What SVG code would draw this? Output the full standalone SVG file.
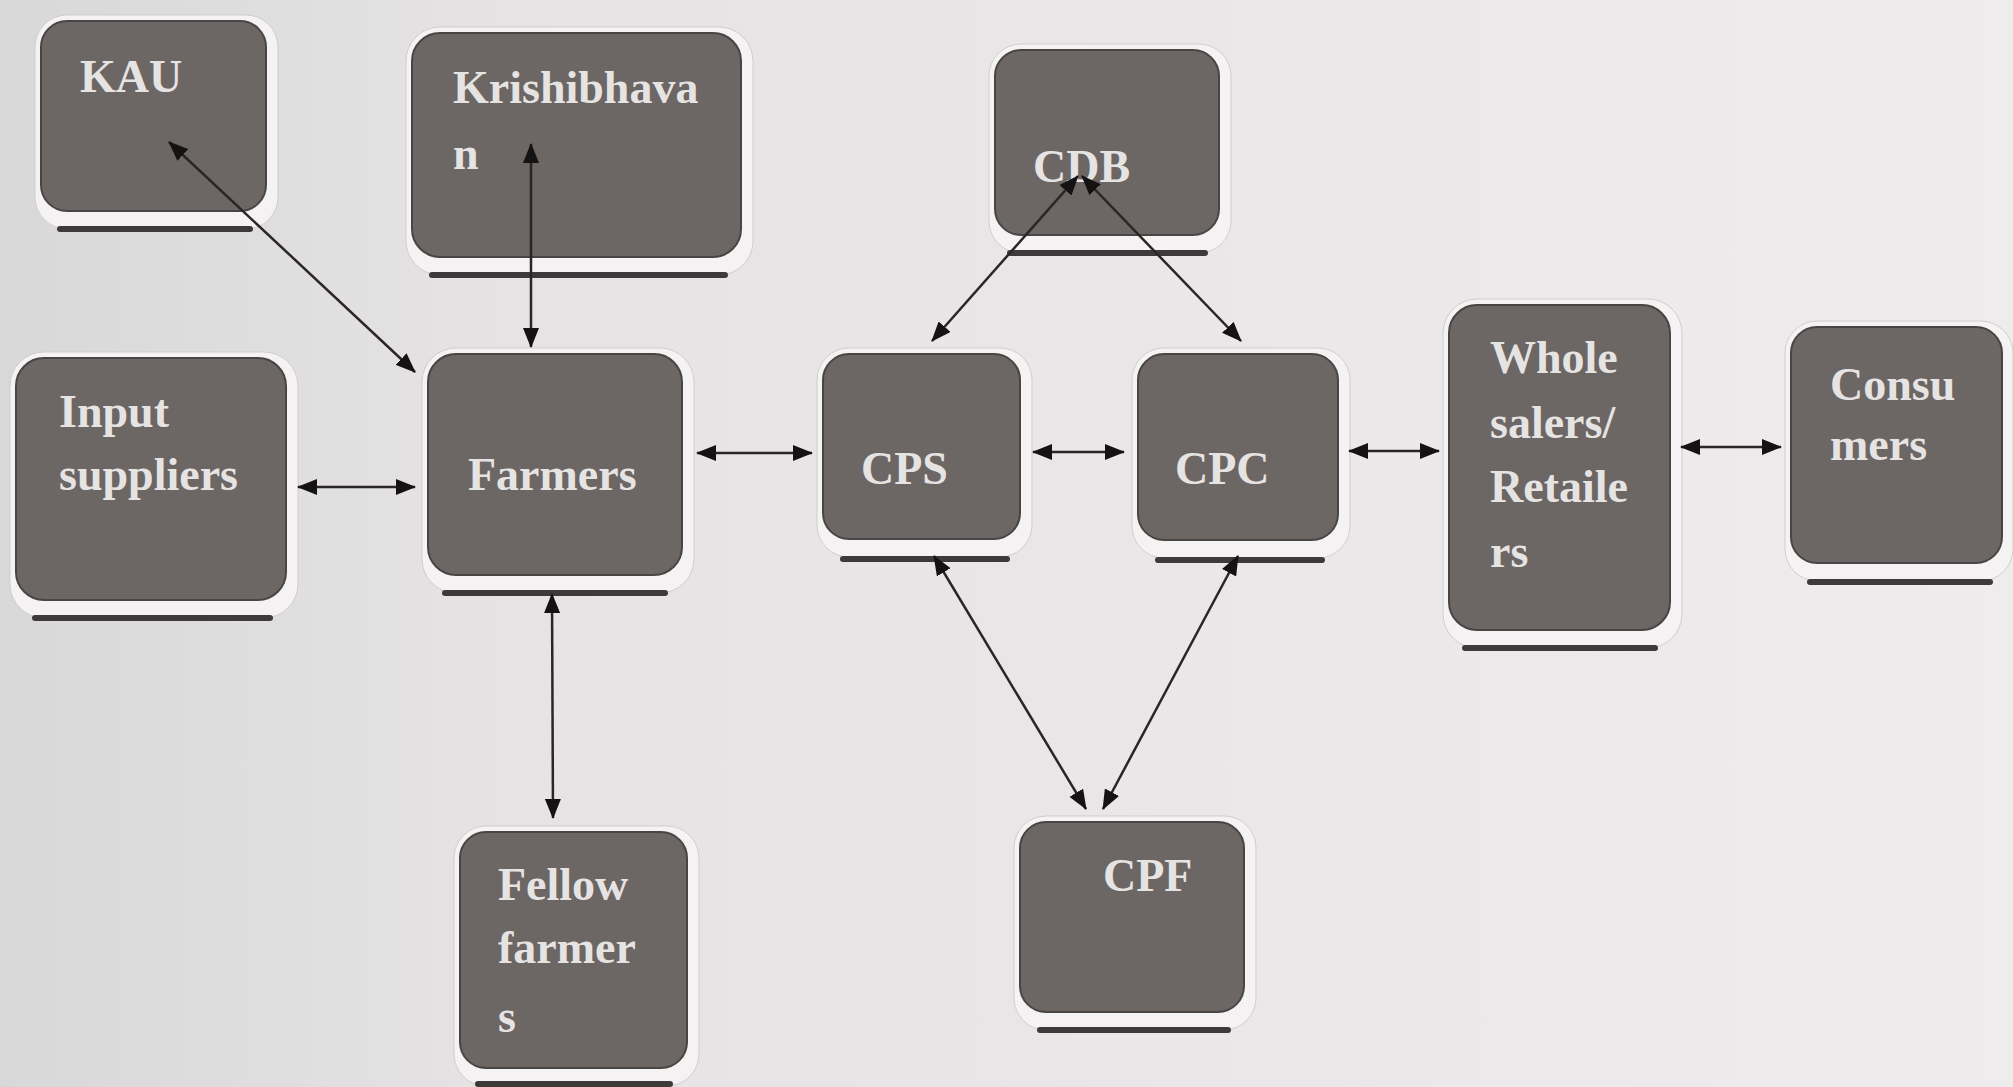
<svg xmlns="http://www.w3.org/2000/svg" width="2013" height="1087" viewBox="0 0 2013 1087">
<defs>
<linearGradient id="bg" x1="0" y1="0" x2="1" y2="0">
<stop offset="0" stop-color="#d9d8d8"/>
<stop offset="0.25" stop-color="#e5e3e3"/>
<stop offset="1" stop-color="#eeeced"/>
</linearGradient>
<marker id="ah" viewBox="0 0 20 16" markerWidth="20" markerHeight="16" refX="19" refY="8" orient="auto-start-reverse" markerUnits="userSpaceOnUse">
<path d="M0,0 L20,8 L0,16 z" fill="#141212"/>
</marker>
</defs>
<style>
.halo{fill:#f4f2f2;stroke:#d0cdcd;stroke-width:1}
.sh{stroke:#3e3a3a;stroke-width:6;stroke-linecap:round}
.box{fill:#6c6664;stroke:#4a4545;stroke-width:2}
.t{font-family:"Liberation Serif","Times New Roman",serif;font-size:46px;font-weight:bold;fill:#e6e3e3}
.c{stroke:#2a2626;stroke-width:2.5;fill:none;marker-start:url(#ah);marker-end:url(#ah)}
</style>
<rect width="2013" height="1087" fill="url(#bg)"/>

<g id="node-kau">
<rect class="halo" x="35" y="15" width="243" height="214" rx="32"/>
<line class="sh" x1="60" y1="229" x2="250" y2="229"/>
<rect class="box" x="41" y="21" width="225" height="190" rx="26"/>
<text class="t" x="80" y="92">KAU</text>
</g>

<g id="node-krishibhavan">
<rect class="halo" x="406" y="27" width="347" height="248" rx="34"/>
<line class="sh" x1="432" y1="275" x2="725" y2="275"/>
<rect class="box" x="412" y="33" width="329" height="224" rx="28"/>
<text class="t" x="453" y="103">Krishibhava</text>
<text class="t" x="453" y="169">n</text>
</g>

<g id="node-cdb">
<rect class="halo" x="989" y="44" width="242" height="209" rx="32"/>
<line class="sh" x1="1010" y1="253" x2="1205" y2="253"/>
<rect class="box" x="995" y="50" width="224" height="185" rx="26"/>
<text class="t" x="1033" y="182">CDB</text>
</g>

<g id="node-input-suppliers">
<rect class="halo" x="10" y="352" width="288" height="266" rx="34"/>
<line class="sh" x1="35" y1="618" x2="270" y2="618"/>
<rect class="box" x="16" y="358" width="270" height="242" rx="28"/>
<text class="t" x="59" y="427">Input</text>
<text class="t" x="59" y="490">suppliers</text>
</g>

<g id="node-farmers">
<rect class="halo" x="422" y="348" width="272" height="245" rx="34"/>
<line class="sh" x1="445" y1="593" x2="665" y2="593"/>
<rect class="box" x="428" y="354" width="254" height="221" rx="28"/>
<text class="t" x="468" y="490">Farmers</text>
</g>

<g id="node-cps">
<rect class="halo" x="817" y="348" width="215" height="209" rx="32"/>
<line class="sh" x1="843" y1="559" x2="1007" y2="559"/>
<rect class="box" x="823" y="354" width="197" height="185" rx="26"/>
<text class="t" x="861" y="484">CPS</text>
</g>

<g id="node-cpc">
<rect class="halo" x="1132" y="348" width="218" height="210" rx="32"/>
<line class="sh" x1="1158" y1="560" x2="1322" y2="560"/>
<rect class="box" x="1138" y="354" width="200" height="186" rx="26"/>
<text class="t" x="1175" y="484">CPC</text>
</g>

<g id="node-wholesalers">
<rect class="halo" x="1443" y="299" width="239" height="349" rx="34"/>
<line class="sh" x1="1465" y1="648" x2="1655" y2="648"/>
<rect class="box" x="1449" y="305" width="221" height="325" rx="28"/>
<text class="t" x="1490" y="373">Whole</text>
<text class="t" x="1490" y="438">salers/</text>
<text class="t" x="1490" y="502">Retaile</text>
<text class="t" x="1490" y="567">rs</text>
</g>

<g id="node-consumers">
<rect class="halo" x="1785" y="321" width="228" height="260" rx="32"/>
<line class="sh" x1="1810" y1="582" x2="1990" y2="582"/>
<rect class="box" x="1791" y="327" width="211" height="236" rx="26"/>
<text class="t" x="1830" y="400">Consu</text>
<text class="t" x="1830" y="460">mers</text>
</g>

<g id="node-fellow-farmers">
<rect class="halo" x="454" y="826" width="245" height="260" rx="32"/>
<line class="sh" x1="478" y1="1084" x2="670" y2="1084"/>
<rect class="box" x="460" y="832" width="227" height="236" rx="26"/>
<text class="t" x="498" y="900">Fellow</text>
<text class="t" x="498" y="963">farmer</text>
<text class="t" x="498" y="1032">s</text>
</g>

<g id="node-cpf">
<rect class="halo" x="1014" y="816" width="242" height="214" rx="32"/>
<line class="sh" x1="1040" y1="1030" x2="1228" y2="1030"/>
<rect class="box" x="1020" y="822" width="224" height="190" rx="26"/>
<text class="t" x="1103" y="891">CPF</text>
</g>

<g id="connectors">
<line class="c" x1="169" y1="142" x2="415" y2="372"/>
<line class="c" x1="531" y1="144" x2="531" y2="347"/>
<line class="c" x1="298" y1="487" x2="415" y2="487"/>
<line class="c" x1="697" y1="453" x2="812" y2="453"/>
<line class="c" x1="1033" y1="452" x2="1124" y2="452"/>
<line class="c" x1="1349" y1="451" x2="1439" y2="451"/>
<line class="c" x1="1681" y1="447" x2="1781" y2="447"/>
<line class="c" x1="1078" y1="176" x2="932" y2="341"/>
<line class="c" x1="1082" y1="176" x2="1241" y2="341"/>
<line class="c" x1="552" y1="594" x2="553" y2="818"/>
<line class="c" x1="934" y1="556" x2="1086" y2="809"/>
<line class="c" x1="1238" y1="556" x2="1103" y2="809"/>
</g>
</svg>
